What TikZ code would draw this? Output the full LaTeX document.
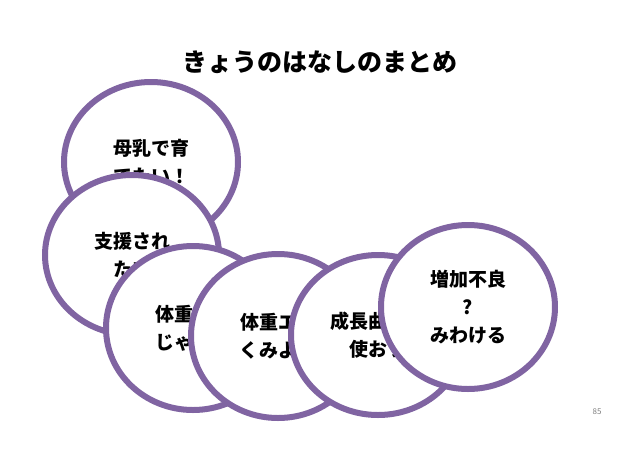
\documentclass[tikz,border=0pt]{standalone}
\usepackage{fontspec}
\newfontfamily\jp{Noto Sans CJK JP}
\usetikzlibrary{shapes.geometric}
\definecolor{ring}{HTML}{8064A2}
\tikzset{
  bub/.style={ellipse, draw=ring, line width=6pt, fill=white, inner sep=0pt,
    minimum width=174pt, minimum height=160pt, align=center,
    font=\jp\fontsize{19}{28}\selectfont\bfseries}
}
\begin{document}
\begin{tikzpicture}[x=1pt,y=-1pt]
\useasboundingbox (0,0) rectangle (638,451);
\node (title) at (320,62) {\jp\fontsize{25}{30}\selectfont\bfseries きょうのはなしのまとめ};
\node[bub] (c1) at (151,162) {母乳で育\\てたい！};
\node[bub] (c2) at (132,255) {支援され\\たい};
\node[bub, minimum height=164pt] (c3) at (193,328) {体重計で\\じゃない};
\node[bub, minimum height=164pt] (c4) at (278,336) {体重エ夫\\くみよう};
\node[bub, minimum height=160pt] (c5) at (378,335) {成長曲線を\\使おう};
\node[bub, minimum height=164pt] (c6) at (468,307) {増加不良\\?\\みわける};
\node[text=gray, font=\jp\fontsize{8}{9}\selectfont] (pg) at (597,412) {85};
\end{tikzpicture}
\end{document}
